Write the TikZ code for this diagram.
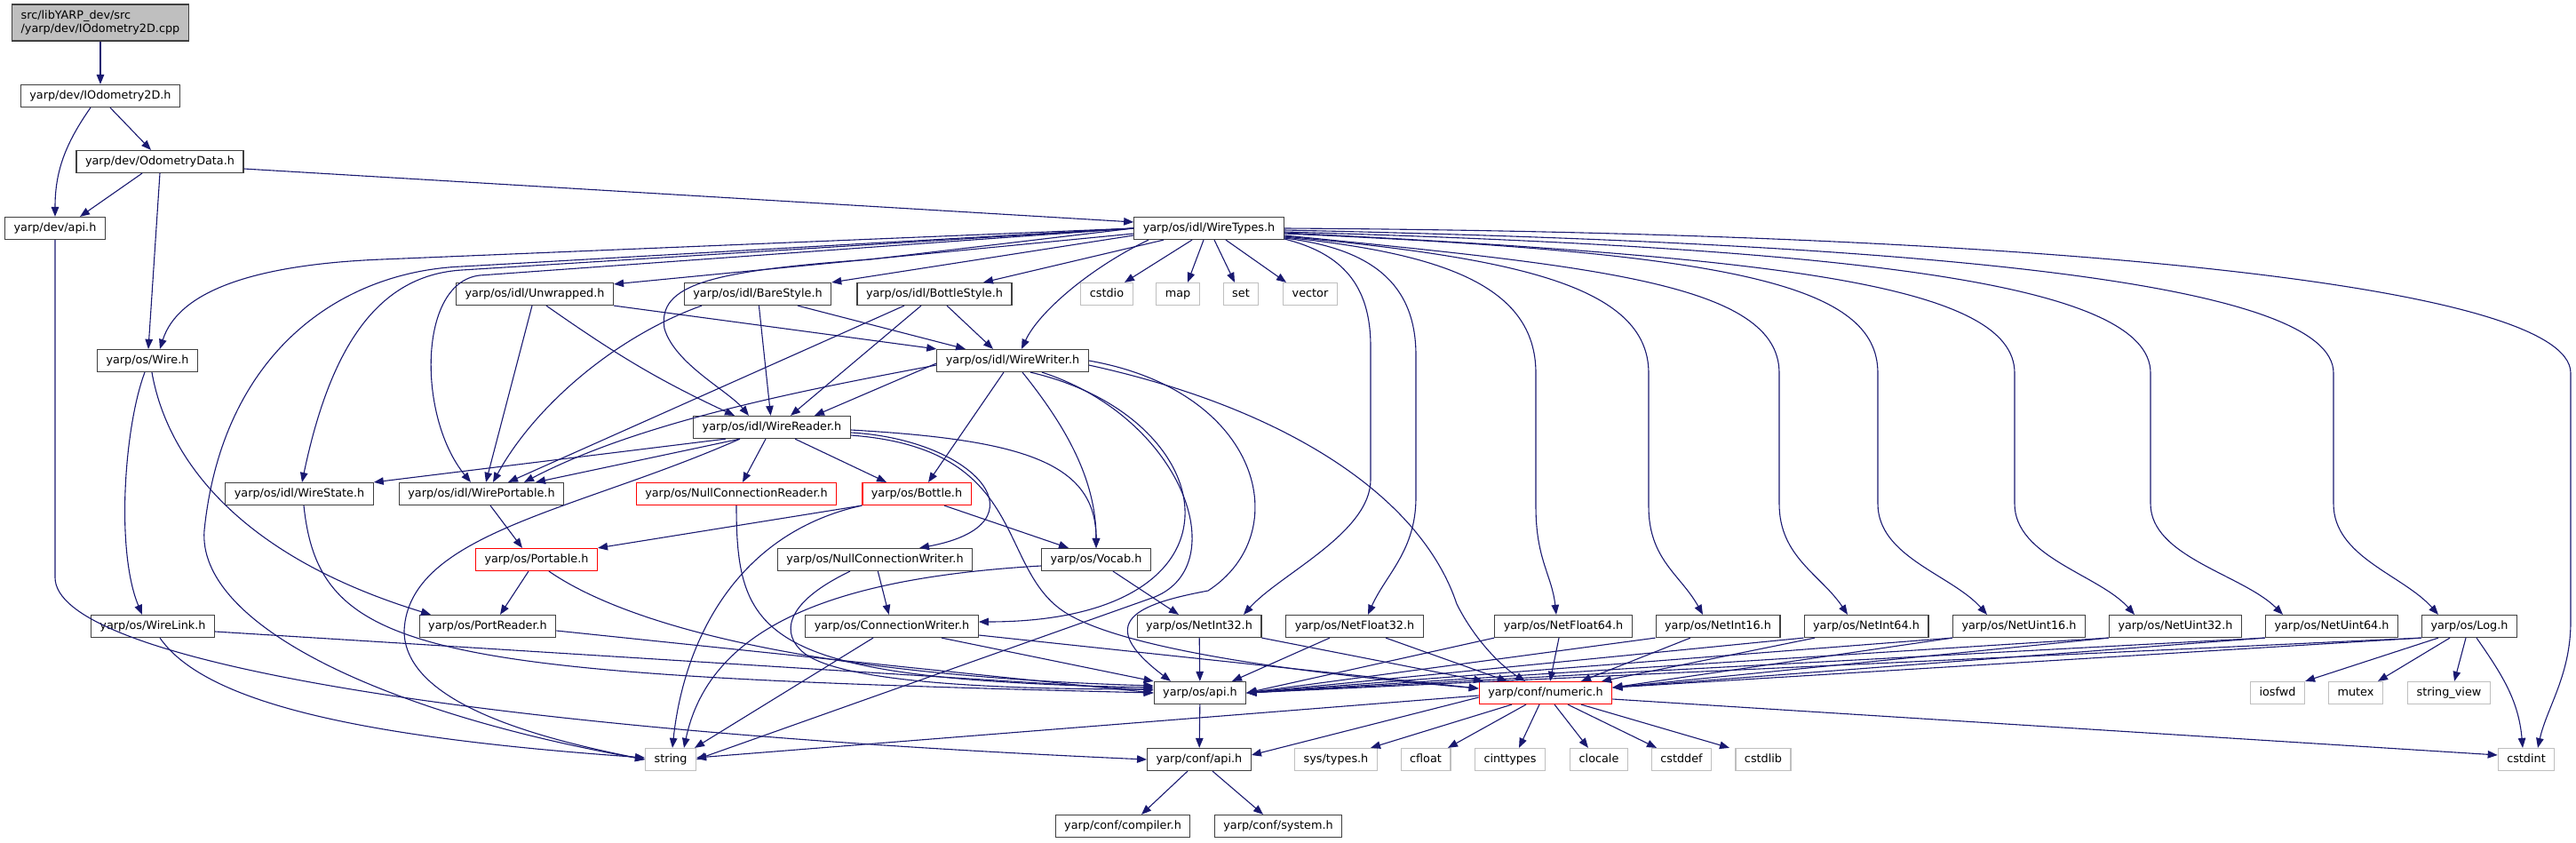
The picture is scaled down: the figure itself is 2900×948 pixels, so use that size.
\documentclass[tikz,border=0pt]{standalone}
\usepackage{fontspec}
\setmainfont{DejaVu Sans}
\usepackage{xcolor}
\definecolor{depBlue}{HTML}{191970}
\definecolor{boxGrey}{HTML}{404040}
\definecolor{sysGrey}{HTML}{BFBFBF}
\usepackage{tikz}
\usetikzlibrary{arrows.meta}

\begin{document}
\begin{tikzpicture}[x=1pt, y=1pt,
    font=\fontsize{12.8}{15.5}\selectfont,
    hdr/.style={draw=boxGrey, line width=1.2pt, fill=white, minimum height=25pt,
      inner xsep=10pt, inner ysep=0pt, text height=9.5pt, text depth=3pt},
    bad/.style={hdr, draw=red},
    sys/.style={hdr, draw=sysGrey},
    dep/.style={depBlue, line width=1.1pt, -{Triangle[length=11pt, width=8.5pt]}}]
  \useasboundingbox (0,0) rectangle (2900,-948);
  % the file and its first headers
  \node[draw=boxGrey, line width=1.2pt, fill=sysGrey, align=left, inner xsep=10pt,
    inner ysep=5pt, minimum height=41pt] (root) at (113,-25.5)
    {src/libYARP\_dev/src\\/yarp/dev/IOdometry2D.cpp};
  \node[hdr] (iodo) at (113,-108) {yarp/dev/IOdometry2D.h};
  \node[hdr] (odata) at (180,-182) {yarp/dev/OdometryData.h};
  \node[hdr] (devapi) at (62,-257) {yarp/dev/api.h};
  \node[hdr] (wtypes) at (1361,-257) {yarp/os/idl/WireTypes.h};
  % idl styles and std headers under WireTypes.h
  \node[hdr] (unwrapped) at (602,-331) {yarp/os/idl/Unwrapped.h};
  \node[hdr] (bare) at (853,-331) {yarp/os/idl/BareStyle.h};
  \node[hdr] (bstyle) at (1052,-331) {yarp/os/idl/BottleStyle.h};
  \foreach \nm/\x in {cstdio/1246, map/1326, set/1397, vector/1475}
    \node[sys] (\nm) at (\x,-331) {\nm};
  \node[hdr] (wire) at (166,-406) {yarp/os/Wire.h};
  \node[hdr] (wwriter) at (1140,-406) {yarp/os/idl/WireWriter.h};
  \node[hdr] (wreader) at (869,-481) {yarp/os/idl/WireReader.h};
  \node[hdr] (wstate) at (337,-556) {yarp/os/idl/WireState.h};
  \node[hdr] (wportable) at (542,-556) {yarp/os/idl/WirePortable.h};
  \node[bad] (nullreader) at (829,-556) {yarp/os/NullConnectionReader.h};
  \node[bad] (bottle) at (1032,-556) {yarp/os/Bottle.h};
  \node[bad] (portable) at (604,-630) {yarp/os/Portable.h};
  \node[hdr] (nullwriter) at (985,-630) {yarp/os/NullConnectionWriter.h};
  \node[hdr] (vocab) at (1234,-630) {yarp/os/Vocab.h};
  \node[hdr] (wirelink) at (172,-705) {yarp/os/WireLink.h};
  \node[hdr] (portreader) at (549,-705) {yarp/os/PortReader.h};
  \node[hdr] (connwriter) at (1004,-705) {yarp/os/ConnectionWriter.h};
  \foreach \nm/\x in {NetInt32/1350, NetFloat32/1525, NetFloat64/1760, NetInt16/1934,
      NetInt64/2101, NetUint16/2273, NetUint32/2449, NetUint64/2625, Log/2780}
    \node[hdr] (\nm) at (\x,-705) {yarp/os/\nm.h};
  \node[hdr] (osapi) at (1351,-780) {yarp/os/api.h};
  \node[bad] (numeric) at (1740,-780) {yarp/conf/numeric.h};
  \node[sys] (iosfwd) at (2564,-780) {iosfwd};
  \node[sys] (mutex) at (2652,-780) {mutex};
  \node[sys] (strview) at (2757,-780) {string\_view};
  \node[sys] (string) at (755,-855) {string};
  \node[hdr] (confapi) at (1350,-855) {yarp/conf/api.h};
  \node[sys] (systypes) at (1504,-855) {sys/types.h};
  \foreach \nm/\x in {cfloat/1605, cinttypes/1700, clocale/1800, cstddef/1893,
      cstdlib/1985, cstdint/2844}
    \node[sys] (\nm) at (\x,-855) {\nm};
  \node[hdr] (compiler) at (1264,-930) {yarp/conf/compiler.h};
  \node[hdr] (system) at (1439,-930) {yarp/conf/system.h};

  % top of the graph
  \draw[dep] (root) -- (iodo);
  \draw[dep] ([xshift=-11pt]iodo.south) to[out=-125,in=90] (devapi.north);
  \draw[dep] ([xshift=11pt]iodo.south) -- ([xshift=-10pt]odata.north);
  \draw[dep] ([xshift=-20pt]odata.south) -- ([xshift=28pt]devapi.north);
  \draw[dep] (odata.south) -- ([xshift=1pt]wire.north);
  \draw[dep] ([yshift=-8pt]odata.east) -- ([yshift=7pt]wtypes.west);
  \draw[dep] (devapi.south) -- ++(0,-380) .. controls +(0,-90) and (500,-820) .. (confapi.west);

  % WireTypes.h, to the left
  \draw[dep] (wtypes.west) -- (430,-292) .. controls (280,-298) and (200,-330) .. ([xshift=14pt]wire.north);
  \draw[dep] (wtypes.west) -- (520,-300) .. controls (380,-306) and (250,-400) .. (230,-597)
    .. controls (222,-700) and (420,-800) .. (string.west);
  \draw[dep] (wtypes.west) -- (520,-304) .. controls (420,-310) and (370,-400) .. ([xshift=3pt]wstate.north);
  \draw[dep] (wtypes.west) -- (540,-310) .. controls (470,-318) and (470,-470) .. ([xshift=-12pt]wportable.north);
  \draw[dep] (wtypes.west) -- (980,-292) .. controls (800,-305) and (740,-320) .. (748,-370)
    .. controls (760,-410) and (820,-440) .. ([xshift=-26pt]wreader.north);
  \draw[dep] ([yshift=-6pt]wtypes.west) -- ([yshift=-2pt]unwrapped.north east);
  \draw[dep] ([yshift=-8pt]wtypes.west) -- (bare.north east);
  \draw[dep] ([xshift=-51pt]wtypes.south) -- ([xshift=55pt]bstyle.north);
  \draw[dep] ([xshift=-68pt]wtypes.south) .. controls (1230,-300) and (1170,-350) .. ([xshift=10pt]wwriter.north);
  \draw[dep] ([xshift=-19pt]wtypes.south) -- ([xshift=20pt]cstdio.north);
  \draw[dep] ([xshift=-6pt]wtypes.south) -- ([xshift=11pt]map.north);
  \draw[dep] ([xshift=6pt]wtypes.south) -- ([xshift=-7pt]set.north);
  \draw[dep] ([xshift=19pt]wtypes.south) -- ([xshift=-27pt]vector.north);

  % WireTypes.h, the long drops to the right
  \foreach \nd/\sy/\cx/\cy/\vx/\va/\vb/\dx/\ex in {
      NetInt32/-12pt/1510/-285/1543/-390/-540/40/50pt,
      NetFloat32/-11pt/1545/-280/1594/-400/-560/20/15pt,
      NetFloat64/-10pt/1620/-285/1729/-420/-570/-5/-8pt,
      NetInt16/-9pt/1700/-290/1856/-420/-570/-25/-17pt,
      NetInt64/-8pt/1800/-300/2003/-420/-567/-30/-21pt,
      NetUint16/-6pt/1950/-285/2114/-420/-567/-40/-36pt,
      NetUint32/-5pt/2000/-290/2268/-420/-567/-40/-46pt,
      NetUint64/-4pt/2100/-280/2421/-420/-567/-45/-55pt,
      Log/-2pt/2200/-275/2627/-420/-567/-40/-35pt,
      cstdint/0pt/2300/-262/2894/-420/-700/10/13pt}
    \draw[dep] ([yshift=\sy]wtypes.east) .. controls (\cx,\cy) and (\vx,-320) .. (\vx,\va)
      -- (\vx,\vb) .. controls (\vx,\vb-60) and +(\dx,45) .. ([xshift=\ex]\nd.north);

  % idl styles
  \draw[dep] ([xshift=-3pt]unwrapped.south) -- ([xshift=5pt]wportable.north);
  \draw[dep] ([xshift=13pt]unwrapped.south) to[out=-35,in=155] ([xshift=-42pt]wreader.north);
  \draw[dep] (unwrapped.south east) -- (wwriter.north west);
  \draw[dep] ([xshift=-63pt]bare.south) .. controls (690,-380) and (600,-460) .. ([xshift=13pt]wportable.north);
  \draw[dep] (bare) -- (wreader);
  \draw[dep] ([xshift=45pt]bare.south) -- ([xshift=-53pt]wwriter.north);
  \draw[dep] ([xshift=-34pt]bstyle.south) -- ([xshift=30pt]wportable.north);
  \draw[dep] ([xshift=-15pt]bstyle.south) -- ([xshift=21pt]wreader.north);
  \draw[dep] ([xshift=14pt]bstyle.south) -- ([xshift=-22pt]wwriter.north);

  % WireWriter.h
  \draw[dep] ([yshift=-3pt]wwriter.west) -- ([xshift=48pt]wreader.north);
  \draw[dep] ([yshift=-5pt]wwriter.west) .. controls (900,-440) and (720,-475) .. ([xshift=48pt]wportable.north);
  \draw[dep] ([xshift=-10pt]wwriter.south) -- ([xshift=13pt]bottle.north);
  \draw[dep] ([xshift=11pt]wwriter.south) .. controls (1200,-480) and (1234,-540) .. (vocab.north);
  \draw[dep] ([xshift=20pt]wwriter.south) .. controls (1380,-470) and (1420,-700) .. ([yshift=5pt]connwriter.east);
  \draw[dep] ([xshift=33pt]wwriter.south) .. controls (1330,-470) and (1390,-635) .. (1300,-672) -- (string.east);
  \draw[dep] (wwriter.east) .. controls (1420,-440) and (1460,-600) .. (1360,-665)
    .. controls (1280,-680) and (1230,-700) .. ([xshift=-33pt]osapi.north);
  \draw[dep] ([yshift=-5pt]wwriter.east) .. controls (1450,-460) and (1600,-560) .. (1640,-680)
    .. controls (1660,-720) and (1690,-750) .. ([xshift=-23pt]numeric.north);

  % WireReader.h
  \draw[dep] ([xshift=-52pt]wreader.south) -- (wstate.north east);
  \draw[dep] ([xshift=-36pt]wreader.south) -- ([xshift=61pt]wportable.north);
  \draw[dep] ([xshift=-36pt]wreader.south) .. controls (650,-575) and (460,-600) .. (455,-710)
    .. controls (455,-790) and (600,-830) .. (string.west);
  \draw[dep] (wreader) -- (nullreader);
  \draw[dep] ([xshift=26pt]wreader.south) -- ([xshift=-34pt]bottle.north);
  \draw[dep] ([yshift=-6pt]wreader.east) .. controls (1100,-495) and (1180,-590) .. ([xshift=50pt]nullwriter.north);
  \draw[dep] ([yshift=-3pt]wreader.east) .. controls (1150,-495) and (1234,-520) .. (vocab.north);
  \draw[dep] ([yshift=-9pt]wreader.east) .. controls (1160,-505) and (1120,-640) .. (1200,-690)
    .. controls (1280,-740) and (1550,-765) .. ([yshift=5pt]numeric.west);

  % Wire.h and the lower headers
  \draw[dep] ([xshift=-3pt]wire.south) .. controls (140,-480) and (130,-620) .. ([xshift=-12pt]wirelink.north);
  \draw[dep] ([xshift=5pt]wire.south) .. controls (185,-500) and (250,-620) .. ([xshift=-64pt]portreader.north);
  \draw[dep] ([yshift=-6pt]wirelink.east) -- ([yshift=3pt]osapi.west);
  \draw[dep] ([xshift=8pt]wirelink.south) .. controls (230,-790) and (400,-830) .. ([yshift=2pt]string.west);
  \draw[dep] ([xshift=5pt]wstate.south) .. controls (360,-740) and (480,-760) .. (osapi.west);
  \draw[dep] ([xshift=10pt]wportable.south) -- ([xshift=-16pt]portable.north);
  \draw[dep] ([xshift=-9pt]portable.south) -- ([xshift=14pt]portreader.north);
  \draw[dep] ([xshift=14pt]portable.south) .. controls (700,-700) and (900,-760) .. ([yshift=8pt]osapi.west);
  \draw[dep] ([yshift=-5pt]portreader.east) -- (osapi.west);
  \draw[dep] (nullreader.south) .. controls (829,-720) and (860,-765) .. ([yshift=6pt]osapi.west);
  \draw[dep] (bottle.south west) -- (portable.north east);
  \draw[dep] (bottle.south west) .. controls (830,-600) and (770,-720) .. ([xshift=2pt]string.north);
  \draw[dep] ([xshift=31pt]bottle.south) -- ([xshift=-31pt]vocab.north);
  \draw[dep] (nullwriter) -- (connwriter);
  \draw[dep] ([xshift=-28pt]nullwriter.south) .. controls (880,-680) and (880,-715) .. (905,-735)
    .. controls (950,-771) and (1150,-776) .. ([yshift=4pt]osapi.west);
  \draw[dep] ([xshift=19pt]vocab.south) -- ([xshift=-23pt]NetInt32.north);
  \draw[dep] ([yshift=-7pt]vocab.west) .. controls (950,-650) and (800,-700) .. ([xshift=15pt]string.north);
  \draw[dep] ([xshift=-21pt]connwriter.south) -- ([xshift=27pt]string.north);
  \draw[dep] ([xshift=56pt]connwriter.south) -- (osapi.north west);
  \draw[dep] ([yshift=-10pt]connwriter.east) -- ([yshift=5pt]numeric.west);

  % Net* and Log.h down to the two api headers
  \draw[dep] (NetInt32) -- (osapi);
  \draw[dep] (NetInt32.south east) -- ([xshift=-70pt]numeric.north);
  \draw[dep] ([xshift=-28pt]NetFloat32.south) -- ([xshift=36pt]osapi.north);
  \draw[dep] ([xshift=35pt]NetFloat32.south) -- ([xshift=-43pt]numeric.north);
  \draw[dep] (NetFloat64.south west) -- (osapi.east);
  \draw[dep] ([xshift=-5pt]NetFloat64.south) -- ([xshift=5pt]numeric.north);
  \draw[dep] (NetInt16.south west) -- (osapi.east);
  \draw[dep] ([xshift=-31pt]NetInt16.south) -- ([xshift=40pt]numeric.north);
  \draw[dep] (NetInt64.south west) -- (osapi.east);
  \draw[dep] ([xshift=-58pt]NetInt64.south) -- ([xshift=63pt]numeric.north);
  \foreach \nd in {NetUint16, NetUint32, NetUint64, Log} {
    \draw[dep] (\nd.south west) -- (osapi.east);
    \draw[dep] (\nd.south west) -- ([yshift=6pt]numeric.east);
  }
  \draw[dep] ([xshift=-35pt]Log.south) -- (iosfwd.north east);
  \draw[dep] ([xshift=-22pt]Log.south) -- ([xshift=25pt]mutex.north);
  \draw[dep] ([xshift=-4pt]Log.south) -- ([xshift=6pt]strview.north);
  \draw[dep] ([xshift=8pt]Log.south) to[out=-55,in=95] ([xshift=-4pt]cstdint.north);

  % the bottom rows
  \draw[dep] (osapi) -- (confapi);
  \draw[dep] ([yshift=-5pt]numeric.west) -- ([yshift=5pt]confapi.east);
  \draw[dep] ([yshift=-3pt]numeric.west) -- ([yshift=2pt]string.east);
  \draw[dep] ([xshift=-38pt]numeric.south) -- ([xshift=39pt]systypes.north);
  \draw[dep] ([xshift=-22pt]numeric.south) -- ([xshift=25pt]cfloat.north);
  \draw[dep] ([xshift=-7pt]numeric.south) -- ([xshift=10pt]cinttypes.north);
  \draw[dep] ([xshift=10pt]numeric.south) -- ([xshift=-12pt]clocale.north);
  \draw[dep] ([xshift=25pt]numeric.south) -- ([xshift=-28pt]cstddef.north);
  \draw[dep] ([xshift=40pt]numeric.south) -- ([xshift=-38pt]cstdlib.north);
  \draw[dep] ([yshift=-7pt]numeric.east) -- ([yshift=5pt]cstdint.west);
  \draw[dep] ([xshift=-13pt]confapi.south) -- ([xshift=21pt]compiler.north);
  \draw[dep] ([xshift=15pt]confapi.south) -- ([xshift=-17pt]system.north);
\end{tikzpicture}
\end{document}
